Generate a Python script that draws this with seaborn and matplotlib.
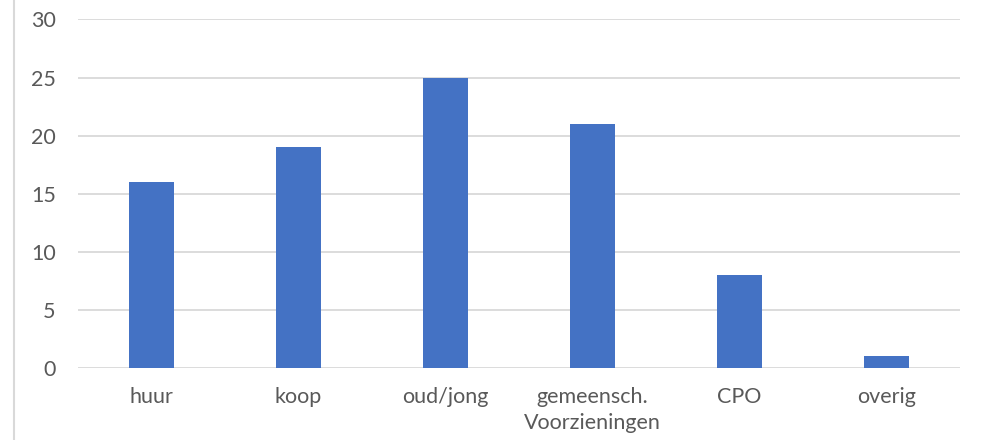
import matplotlib
matplotlib.use("Agg")
import matplotlib.pyplot as plt
import seaborn as sns
import pandas as pd
from matplotlib.lines import Line2D

categories = ["huur", "koop", "oud/jong", "gemeensch.\nVoorzieningen", "CPO", "overig"]
values = [16, 19, 25, 21, 8, 1]
y_ticks = [0, 5, 10, 15, 20, 25, 30]

df = pd.DataFrame({"categorie": categories, "aantal": values})

sns.set_style("white")
plt.rcParams["font.family"] = ["Lato", "DejaVu Sans"]

bar_color = "#4472C4"
text_color = "#595959"
grid_color = "#D9D9D9"

fig = plt.figure(figsize=(9.87, 4.40), dpi=100)
ax = fig.add_axes([0.079, 0.1636, 0.8936, 0.7921])

sns.barplot(data=df, x="categorie", y="aantal", color=bar_color,
            width=0.31, saturation=1, linewidth=0, ax=ax, zorder=3)

ax.set_ylim(0, 30)
ax.set_yticks(y_ticks)
ax.set_xlim(-0.5, len(categories) - 0.5)
ax.yaxis.grid(True, color=grid_color, linewidth=1.3, zorder=0)
ax.set_axisbelow(True)
for s in ax.spines.values():
    s.set_visible(False)
ax.set_xlabel("")
ax.set_ylabel("")
ax.tick_params(axis="both", length=0, labelsize=15.5, labelcolor=text_color)
ax.tick_params(axis="y", pad=16)
ax.tick_params(axis="x", pad=14)
for lbl in ax.get_xticklabels():
    lbl.set_linespacing(1.35)

# outer chart border on the left
fig.add_artist(Line2D([14 / 987, 14 / 987], [0, 1], transform=fig.transFigure,
                      color=grid_color, linewidth=1.5))

fig.savefig("out.png", dpi=100)
